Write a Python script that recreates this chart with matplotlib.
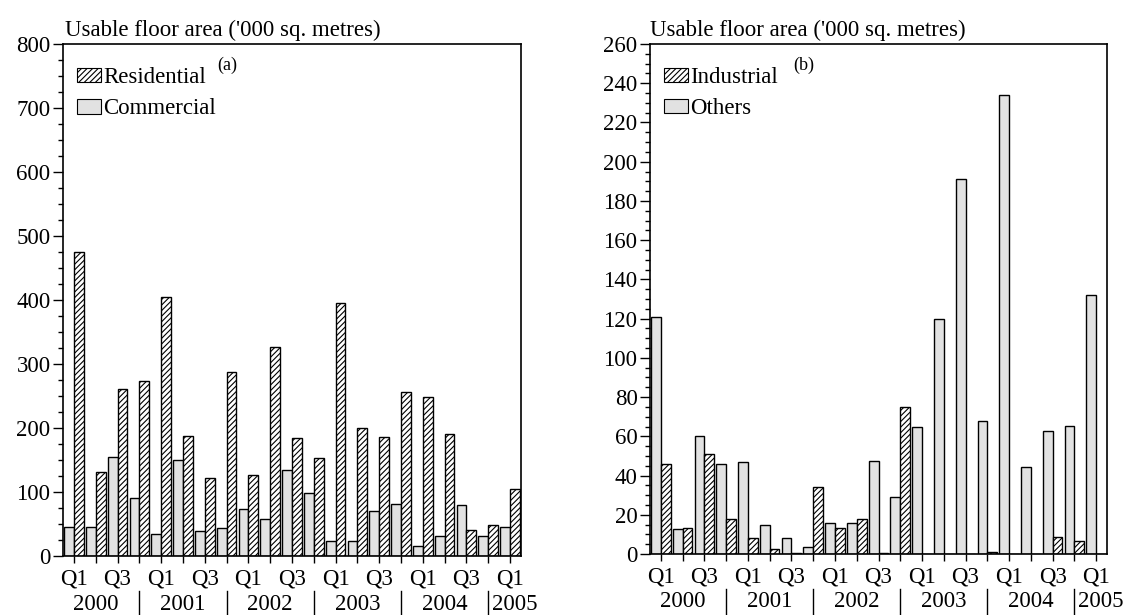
import numpy as np
import matplotlib
matplotlib.use("Agg")
import matplotlib.pyplot as plt
from matplotlib.transforms import blended_transform_factory
from matplotlib.patches import Patch
from matplotlib.ticker import MultipleLocator

plt.rcParams['font.family'] = ['Liberation Serif', 'DejaVu Serif']
plt.rcParams['hatch.linewidth'] = 0.8

# ---- data ----
quarter_labels = ['Q1', '', 'Q3', ''] * 5 + ['Q1']
years = ['2000', '2001', '2002', '2003', '2004', '2005']

residential = [475, 131, 261, 274, 404, 188, 122, 288, 126, 326, 185,
               153, 395, 200, 186, 257, 249, 191, 41, 48, 105]
commercial = [46, 45, 155, 91, 34, 150, 39, 43, 73, 58, 135,
              99, 24, 24, 71, 82, 16, 32, 80, 32, 46]

industrial = [46, 13.2, 51, 18, 8, 2.5, 0.3, 34, 13.4, 18, 0.4,
              75, 0, 0, 0, 0.8, 0, 0, 8.8, 6.8, 0]
others = [121, 12.6, 60, 46, 47, 15, 8, 3.4, 16, 15.6, 47.4,
          29, 65, 120, 191, 68, 234, 44.5, 62.5, 65.4, 132]

ylabel_text = "Usable floor area ('000 sq. metres)"

W, H = 1131, 615
fig = plt.figure(figsize=(W / 100, H / 100), dpi=100)

FS = 16.5
GRAY = '#e2e2e2'


def px_axes(l, r, t, b):
    return fig.add_axes([l / W, 1 - b / H, (r - l) / W, (b - t) / H])


def panel(ax, hatched, plain, hatched_name, plain_name, ymax, major, minor, tag, tag_x):
    x = np.arange(len(quarter_labels))
    w = 0.45
    ax.bar(x - w / 2, plain, width=w, color=GRAY, edgecolor='black', linewidth=1.0)
    ax.bar(x + w / 2, hatched, width=w, color='white', edgecolor='black',
           linewidth=1.0, hatch='//////')
    ax.set_xlim(-0.5, len(x) - 0.5)
    ax.set_ylim(0, ymax)
    ax.set_xticks(x)
    ax.set_xticklabels(quarter_labels, fontsize=FS)
    ax.yaxis.set_major_locator(MultipleLocator(major))
    ax.yaxis.set_minor_locator(MultipleLocator(minor))
    ax.tick_params(axis='y', which='major', direction='out', length=7, width=1.0,
                   labelsize=FS, pad=2)
    ax.tick_params(axis='y', which='minor', direction='out', length=3.5, width=1.0)
    ax.tick_params(axis='x', which='major', direction='out', length=5, width=1.0,
                   labelsize=FS, pad=4)
    for s in ax.spines.values():
        s.set_linewidth(1.2)

    tr = blended_transform_factory(ax.transData, ax.transAxes)
    n_years = len(years)
    for i, yr in enumerate(years):
        xpos = 4 * i + 1 if i < n_years - 1 else 4 * i + 0.2
        ax.text(xpos, -0.094, yr, transform=tr, ha='center', va='center',
                fontsize=FS)
    for i in range(n_years - 1):
        ax.plot([4 * i + 3, 4 * i + 3], [-0.068, -0.12], transform=tr,
                color='black', linewidth=1.0, clip_on=False)

    handles = [Patch(facecolor='white', edgecolor='black', hatch='//////', linewidth=0.8),
               Patch(facecolor=GRAY, edgecolor='black', linewidth=0.8)]
    ax.legend(handles, [hatched_name, plain_name], loc='upper left',
              bbox_to_anchor=(0.031, 0.955), frameon=False, fontsize=FS,
              handlelength=1.05, handleheight=0.6, handletextpad=0.08,
              borderpad=0, borderaxespad=0, labelspacing=0.45)
    ax.text(tag_x, 0.958, tag, transform=ax.transAxes, fontsize=13,
            ha='center', va='center')


ax1 = px_axes(63, 521, 44, 556)
panel(ax1, residential, commercial, 'Residential', 'Commercial', 800, 100, 25, '(a)', 0.358)
fig.text(65 / W, 1 - 36 / H, ylabel_text, fontsize=FS, ha='left', va='baseline')

ax2 = px_axes(650, 1107, 44, 554)
panel(ax2, industrial, others, 'Industrial', 'Others', 260, 20, 5, '(b)', 0.337)
fig.text(650 / W, 1 - 36 / H, ylabel_text, fontsize=FS, ha='left', va='baseline')

fig.savefig('out.png', dpi=100)
